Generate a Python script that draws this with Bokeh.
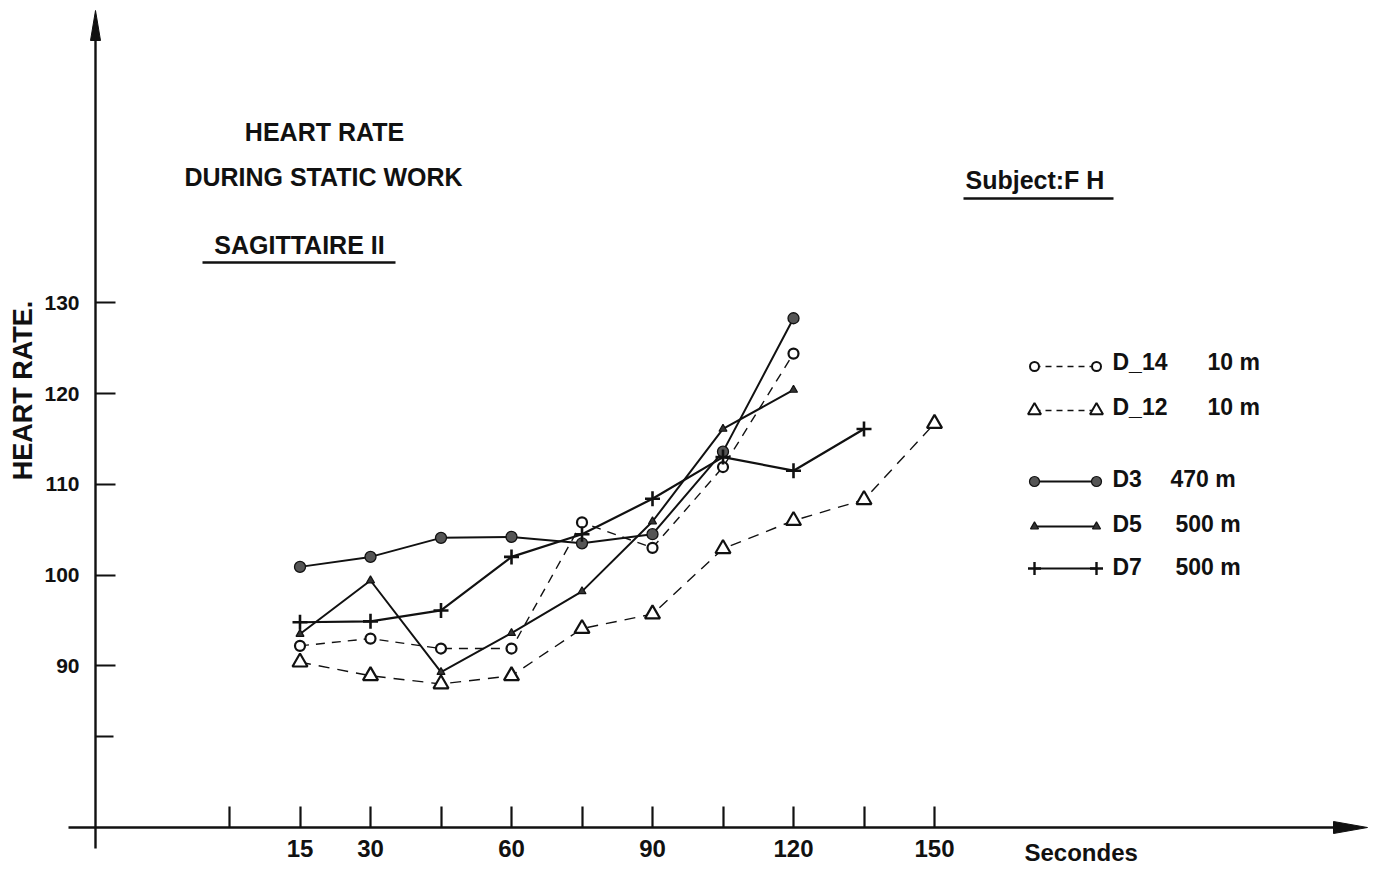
import math

from bokeh.plotting import figure
from bokeh.models import LinearAxis, FixedTicker, Range1d, Label
from bokeh.embed import file_html
from bokeh.resources import INLINE

W, H = 1376, 871
FONT = "Liberation Sans"
INK = "#111111"

# ---- data: heart rate (beats/min) against time under static work (s) ----
t_d14 = [15, 30, 45, 60, 75, 90, 105, 120]
hr_d14 = [92.2, 93.0, 91.9, 91.9, 105.8, 103.0, 111.9, 124.4]

t_d12 = [15, 30, 45, 60, 75, 90, 105, 120, 135, 150]
hr_d12 = [90.4, 88.9, 88.0, 88.9, 94.1, 95.7, 102.9, 106.0, 108.3, 116.7]

t_d3 = [15, 30, 45, 60, 75, 90, 105, 120]
hr_d3 = [100.9, 102.0, 104.1, 104.2, 103.5, 104.5, 113.6, 128.3]

t_d5 = [15, 30, 45, 60, 75, 90, 105, 120]
hr_d5 = [93.5, 99.4, 89.3, 93.6, 98.2, 105.9, 116.1, 120.4]

t_d7 = [15, 30, 45, 60, 75, 90, 105, 120, 135]
hr_d7 = [94.8, 94.9, 96.1, 102.0, 104.5, 108.4, 113.0, 111.5, 116.1]

series_names = ["D_14", "D_12", "D3", "D5", "D7"]
series_depths = ["10 m", "10 m", "470 m", "500 m", "500 m"]

x_ticks_labelled = [15, 30, 60, 90, 120, 150]
x_ticks_plain = [0, 45, 75, 105, 135]
y_ticks_labelled = [90, 100, 110, 120, 130]
y_ticks_plain = [82.2]

# ---- page geometry: pixel -> data conversion for the hand-drawn sheet ----
X0_PX, PX_PER_S = 229.0, 4.7
Y90_PX, PX_PER_BPM = 665.3, 9.075
TEXT_DY = -9  # Label baselines sit a little low; lift them


def sx(px):
    return (px - X0_PX) / PX_PER_S


def sy(py):
    return 90 + (Y90_PX - py) / PX_PER_BPM


p = figure(width=W, height=H,
           x_range=Range1d(sx(0), sx(W)), y_range=Range1d(sy(H), sy(0)),
           x_axis_type=None, y_axis_type=None,
           toolbar_location=None, output_backend="svg",
           min_border=0, outline_line_color=None,
           background_fill_color="white", border_fill_color="white")

AXIS_PX_X, AXIS_PX_Y = 95, 827

common_axis = dict(axis_line_color=INK, axis_line_width=2.4,
                   major_tick_line_color=INK, major_tick_line_width=2.2,
                   minor_tick_line_color=INK, minor_tick_line_width=2.2,
                   major_tick_out=0, minor_tick_out=0,
                   major_label_text_font=FONT,
                   major_label_text_font_style="bold",
                   major_label_text_color=INK)

yax = LinearAxis(fixed_location=sx(AXIS_PX_X), bounds=(sy(848), sy(30)),
                 ticker=FixedTicker(ticks=y_ticks_labelled, minor_ticks=y_ticks_plain),
                 major_tick_in=20, minor_tick_in=18, major_label_standoff=16,
                 major_label_text_font_size="21px",
                 major_label_text_baseline="alphabetic",
                 **common_axis)
p.add_layout(yax, "left")

xax = LinearAxis(fixed_location=sy(AXIS_PX_Y), bounds=(sx(68), sx(1340)),
                 ticker=FixedTicker(ticks=x_ticks_labelled, minor_ticks=x_ticks_plain),
                 major_tick_in=21, minor_tick_in=21, major_label_standoff=12,
                 major_label_text_font_size="24px",
                 **common_axis)
p.add_layout(xax, "below")

# arrow heads at the ends of both axes
p.patch([sx(AXIS_PX_X - 5), sx(AXIS_PX_X), sx(AXIS_PX_X + 5)],
        [sy(40), sy(10), sy(40)], color=INK)
p.patch([sx(1333), sx(1367), sx(1333)],
        [sy(AXIS_PX_Y - 6), sy(AXIS_PX_Y), sy(AXIS_PX_Y + 6)], color=INK)

# ---- series ----
dash_a, dash_b = "9 7", "11 8"

p.line(t_d14, hr_d14, line_color=INK, line_width=1.4, line_dash=dash_a)
p.line(t_d12, hr_d12, line_color=INK, line_width=1.4, line_dash=dash_b)
p.line(t_d3, hr_d3, line_color=INK, line_width=2.0)
p.line(t_d5, hr_d5, line_color=INK, line_width=2.0)
p.line(t_d7, hr_d7, line_color=INK, line_width=2.2)

p.scatter(t_d14, hr_d14, marker="circle", size=10, fill_color="white",
          line_color=INK, line_width=2.2)
p.scatter(t_d12, hr_d12, marker="triangle", size=15, fill_color="white",
          line_color=INK, line_width=2.2)
p.scatter(t_d3, hr_d3, marker="circle", size=11, fill_color="#555555",
          line_color=INK, line_width=1.3)
p.scatter(t_d5, hr_d5, marker="triangle", size=8, fill_color="#333333",
          line_color=INK, line_width=1.2)
p.scatter(t_d7, hr_d7, marker="cross", size=15, line_color=INK, line_width=2.6)

# ---- key ----
key_rows_py = [366, 410, 481, 526, 568]
key_text_py = [370, 415, 487, 532, 575]
key_depth_px = [1207, 1207, 1170, 1175, 1175]
key_x0, key_x1 = 1034, 1096
key_styles = [
    dict(line=dict(line_width=1.4, line_dash="6 5"),
         mark=dict(marker="circle", size=9, fill_color="white", line_width=2.0)),
    dict(line=dict(line_width=1.4, line_dash="6 5"),
         mark=dict(marker="triangle", size=13, fill_color="white", line_width=2.0)),
    dict(line=dict(line_width=1.8),
         mark=dict(marker="circle", size=10, fill_color="#555555", line_width=1.2)),
    dict(line=dict(line_width=1.8),
         mark=dict(marker="triangle", size=8, fill_color="#333333", line_width=1.2)),
    dict(line=dict(line_width=1.8),
         mark=dict(marker="cross", size=13, line_width=2.4)),
]


def caption(text, px, py, size="25px", align="left", angle=0.0, baseline="alphabetic"):
    p.add_layout(Label(x=sx(px), y=sy(py + TEXT_DY), text=text, text_font=FONT,
                       text_font_style="bold", text_font_size=size, text_color=INK,
                       text_align=align, text_baseline=baseline, angle=angle))


for row_py, text_py, depth_px, name, depth, st in zip(
        key_rows_py, key_text_py, key_depth_px, series_names, series_depths, key_styles):
    kx = [sx(key_x0), sx(key_x1)]
    ky = [sy(row_py), sy(row_py)]
    p.line(kx, ky, line_color=INK, **st["line"])
    p.scatter(kx, ky, line_color=INK, **st["mark"])
    caption(name, 1112, text_py, size="23px")
    caption(depth, depth_px, text_py, size="23px")

# ---- titles and captions ----
caption("HEART RATE", 324, 140, align="center")
caption("DURING STATIC WORK", 323, 185, align="center")
caption("SAGITTAIRE II", 299, 253, align="center")
caption("Subject:F H", 965, 188)
caption("Secondes", 1024, 861, size="24px")
caption("HEART RATE.", 22, 399, size="27px", align="center",
        angle=math.pi / 2, baseline="middle")

# underlines
p.line([sx(202), sx(395)], [sy(262), sy(262)], line_color=INK, line_width=2.6)
p.line([sx(963), sx(1113)], [sy(198), sy(198)], line_color=INK, line_width=2.6)

open("out.html", "w").write(file_html(p, INLINE))
